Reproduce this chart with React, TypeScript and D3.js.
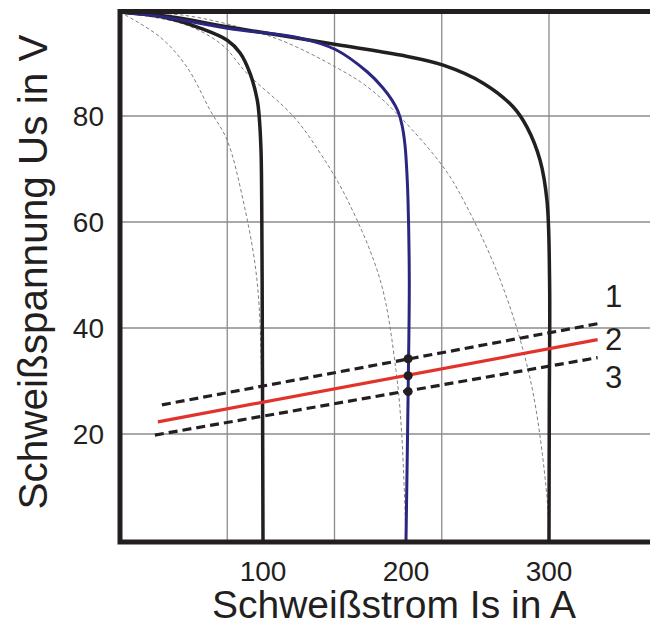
import * as d3 from "d3";

// Kennlinien einer Schweißstromquelle: Strom I in A, Spannung U in V
type Pt = [number, number];

// steil fallende Kennlinien
const curve100: Pt[] = [
  [0, 99.6], [33, 98.5], [56, 96.6], [75, 94.3], [84, 91.9], [91, 88], [96, 83],
  [97.3, 80], [98.6, 73.6], [99.1, 64], [99.4, 49], [99.7, 25], [100, 0],
];
const curve200: Pt[] = [
  [0, 99.6], [33, 98.6], [76, 96.5], [126, 94.7], [151, 92.5], [173, 88.3], [183.9, 85.3],
  [190.2, 83.0], [194.4, 80.9], [197.2, 78.3], [199.3, 74.5], [200.7, 68.9], [201.4, 64.2],
  [202.3, 49], [201.6, 30], [200, 0],
];
const curve300: Pt[] = [
  [0, 99.6], [33, 98.8], [76, 96.8], [151, 93.5], [196, 91.5], [226, 89.6], [254, 86.2],
  [275, 81.7], [284.6, 77.9], [293.7, 71.7], [298.6, 64], [300.4, 49], [300.2, 25], [300, 0],
];

// gestrichelte Hilfskurven
const helper100: Pt[] = [
  [0, 99.6], [28, 94.9], [46.9, 89.2], [63, 81.1], [74.8, 75.5], [86, 64.2],
  [95.8, 49], [99.3, 26.4], [100, 0],
];
const helper200: Pt[] = [
  [0, 99.6], [45, 97.3], [71, 93.5], [89, 88], [121, 80], [140, 73], [159, 64.2],
  [182, 49], [193, 32], [197, 20], [200, 0],
];
const helper300: Pt[] = [
  [0, 99.6], [45, 99], [91, 96.2], [117, 93.8], [151, 89.2], [173, 85.5], [196, 79.8],
  [226, 70.4], [240, 64.2], [266, 49], [287, 30.2], [298.6, 8.1], [300, 0],
];

// Lichtbogen-Arbeitsgeraden 1, 2, 3
const arcLine1: Pt[] = [[29.3, 25.5], [334, 40.8]];
const arcLine2: Pt[] = [[26.5, 22.3], [334, 37.8]];
const arcLine3: Pt[] = [[24.4, 19.8], [334, 34.4]];
const arcLabels = ["1", "2", "3"];

// Arbeitspunkte auf der 200-A-Kennlinie
const workPoints: Pt[] = [[201.5, 34.2], [201.5, 31.0], [201.5, 28.0]];

const xGrid = [75, 150, 225, 300, 375];
const yGrid = [20, 40, 60, 80];
const xTicks = [100, 200, 300];
const yTicks = [20, 40, 60, 80];

export default function App() {
  const width = 650;
  const height = 626;

  // scales
  const x = d3.scaleLinear().domain([0, 300]).range([120, 549]);
  const y = d3.scaleLinear().domain([0, 100]).range([540, 10]);

  const smooth = d3
    .line<Pt>()
    .x((d) => x(d[0]))
    .y((d) => y(d[1]))
    .curve(d3.curveCatmullRom.alpha(0.5));
  const straight = d3
    .line<Pt>()
    .x((d) => x(d[0]))
    .y((d) => y(d[1]));

  const ink = "#231f20";
  const font = "'Liberation Sans', Arial, sans-serif";
  const left = x(0);
  const top = y(100) + 1.5;
  const bottom = y(0) + 2;

  return (
    <svg
      width={width}
      height={height}
      style={{ position: "absolute", left: 0, top: 0, background: "#fff" }}
      fontFamily={font}
    >
      {/* grid */}
      {xGrid.map((g) => (
        <line key={"gx" + g} x1={x(g)} x2={x(g)} y1={top} y2={bottom} stroke="#8c8c8c" strokeWidth={1.3} />
      ))}
      {yGrid.map((g) => (
        <line key={"gy" + g} x1={left} x2={width} y1={y(g)} y2={y(g)} stroke="#8c8c8c" strokeWidth={1.3} />
      ))}

      {/* helper curves */}
      {[helper100, helper200, helper300].map((c, i) => (
        <path key={"h" + i} d={smooth(c) ?? ""} fill="none" stroke="#808080" strokeWidth={1} strokeDasharray="3.5,2.5" />
      ))}

      {/* source characteristics */}
      <path d={smooth(curve100) ?? ""} fill="none" stroke={ink} strokeWidth={3.5} />
      <path d={smooth(curve300) ?? ""} fill="none" stroke={ink} strokeWidth={3.5} />
      <path d={smooth(curve200) ?? ""} fill="none" stroke="#2b2680" strokeWidth={3} />

      {/* arc lines */}
      <path d={straight(arcLine1) ?? ""} fill="none" stroke={ink} strokeWidth={3.2} strokeDasharray="9,5" />
      <path d={straight(arcLine3) ?? ""} fill="none" stroke={ink} strokeWidth={3.2} strokeDasharray="9,5" />
      <path d={straight(arcLine2) ?? ""} fill="none" stroke="#e2322b" strokeWidth={3.2} />

      {workPoints.map((p, i) => (
        <circle key={"p" + i} cx={x(p[0])} cy={y(p[1])} r={4.5} fill={ink} />
      ))}

      {arcLabels.map((t, i) => (
        <text key={"l" + t} x={605} y={[307, 350, 388][i]} fontSize={31} fill={ink}>
          {t}
        </text>
      ))}

      {/* frame */}
      <path
        d={`M${width},${top}H${left}V${bottom}H${width}`}
        fill="none"
        stroke={ink}
        strokeWidth={5}
      />

      {/* tick labels */}
      {xTicks.map((t) => (
        <text key={"tx" + t} x={x(t)} y={581} textAnchor="middle" fontSize={28} fill={ink}>
          {t}
        </text>
      ))}
      {yTicks.map((t) => (
        <text key={"ty" + t} x={104} y={y(t)} dy="0.35em" textAnchor="end" fontSize={28} fill={ink}>
          {t}
        </text>
      ))}

      {/* axis titles */}
      <text x={394} y={618} textAnchor="middle" fontSize={39} fill={ink}>
        Schweißstrom Is in A
      </text>
      <text transform="translate(47,272) rotate(-90)" textAnchor="middle" fontSize={40.5} fill={ink}>
        Schweißspannung Us in V
      </text>
    </svg>
  );
}
